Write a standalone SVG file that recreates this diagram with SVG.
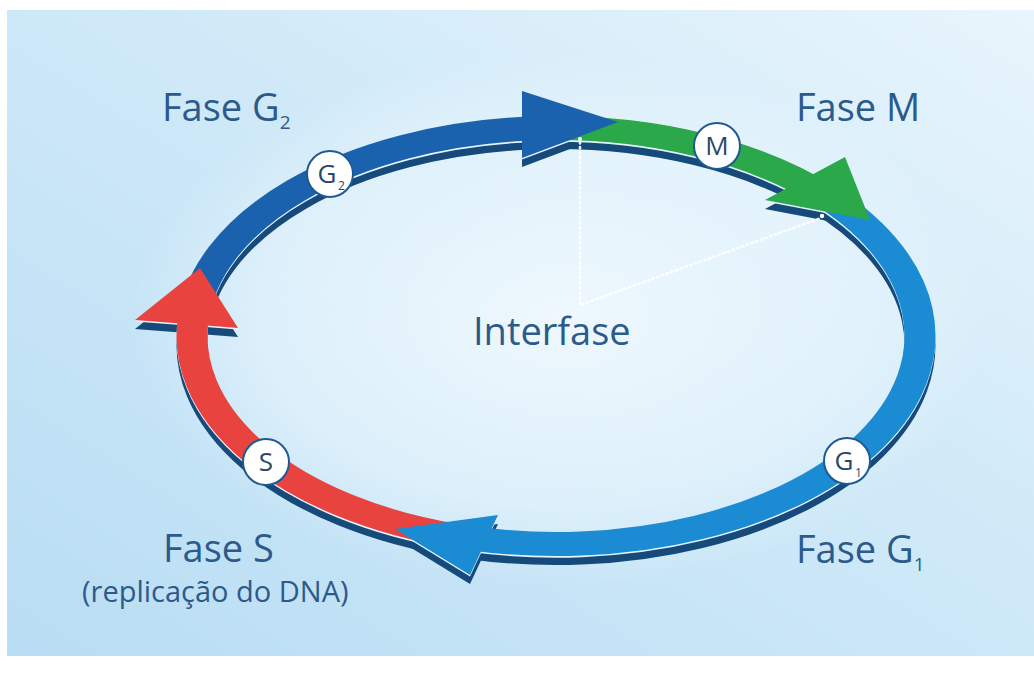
<svg xmlns="http://www.w3.org/2000/svg" xmlns:xlink="http://www.w3.org/1999/xlink" width="1034" height="673" viewBox="0 0 1034 673">
<style>
.lbl{font-family:"Open Sans","Noto Sans","Liberation Sans",sans-serif;fill:#2c5a8a;}
.big{font-size:38px;}
.sub{font-size:19px;}
.small{font-size:29px;}
.ct{font-family:"Open Sans","Noto Sans","Liberation Sans",sans-serif;fill:#2a4868;font-size:26px;text-anchor:middle;}
.cs{font-family:"Open Sans","Noto Sans","Liberation Sans",sans-serif;fill:#2a4868;font-size:12px;}
.node circle{fill:#ffffff;stroke:#1d5a93;stroke-width:2;}
.dots{stroke:#ffffff;stroke-width:2.6;stroke-dasharray:1.5 3.5;stroke-linecap:round;fill:none;opacity:0.9;}
</style>
<defs>
<linearGradient id="bg" x1="0" y1="1" x2="1" y2="0">
<stop offset="0" stop-color="#b9ddf4"/>
<stop offset="0.55" stop-color="#cfe9f8"/>
<stop offset="1" stop-color="#e8f5fc"/>
</linearGradient>
<radialGradient id="glow" cx="560" cy="320" r="430" gradientUnits="userSpaceOnUse" gradientTransform="translate(560 320) scale(1 0.62) translate(-560 -320)">
<stop offset="0" stop-color="#f2fafe" stop-opacity="0.9"/>
<stop offset="0.7" stop-color="#eaf6fd" stop-opacity="0.6"/>
<stop offset="1" stop-color="#eaf6fd" stop-opacity="0"/>
</radialGradient>
<path id="bG2" transform="translate(556 336) scale(1 0.78)" fill="none" stroke-width="31" d="M -363.1 -18.6 A 364 266.67 0 0 1 -31.7 -265.65"/>
<path id="bM" transform="translate(556 336) scale(1 0.78)" fill="none" stroke-width="31" d="M -12.7 -266.5 A 364 266.67 0 0 1 270.5 -178.4"/>
<path id="bG1" transform="translate(556 336) scale(1 0.78)" fill="none" stroke-width="31" d="M 261.8 -185.3 A 364 266.67 0 0 1 -88.1 258.7"/>
<path id="bS" transform="translate(556 336) scale(1 0.78)" fill="none" stroke-width="31" d="M -100.3 256.3 A 364 266.67 0 0 1 -362.0 -27.9"/>
<polygon id="aS" stroke="none" points="135,320 200,268 238,328"/>
<polygon id="aG2" stroke="none" points="522,91 618,122 522,158"/>
<polygon id="aM" stroke="none" points="845,157 870,220 765,200"/>
<polygon id="aG1" stroke="none" points="395,529 498,515 470,575"/>
<g id="ring">
<use xlink:href="#bG2"/><use xlink:href="#bM"/><use xlink:href="#bG1"/><use xlink:href="#bS"/>
<use xlink:href="#aS"/><use xlink:href="#aG2"/><use xlink:href="#aM"/><use xlink:href="#aG1"/>
</g>
</defs>

<rect x="7" y="10" width="1027" height="646" fill="url(#bg)"/>
<rect x="7" y="10" width="1027" height="646" fill="url(#glow)"/>

<g id="connectors">
<g id="shadow" transform="translate(0 9)" fill="#154a7b" stroke="#154a7b"><use xlink:href="#ring"/></g>
<g id="edge" transform="translate(0 1.6)" fill="#e6f4fc" stroke="#e6f4fc"><use xlink:href="#ring"/></g>
<g id="bands">
<use xlink:href="#bG2" stroke="#1a62ad"/>
<use xlink:href="#bM" stroke="#2aa84a"/>
<use xlink:href="#bG1" stroke="#1b8bd3"/>
<use xlink:href="#bS" stroke="#e8433f"/>
</g>
<g id="heads">
<use xlink:href="#aS" fill="#e8433f"/>
<use xlink:href="#aG2" fill="#1a62ad"/>
<use xlink:href="#aM" fill="#2aa84a"/>
<use xlink:href="#aG1" fill="#1b8bd3"/>
</g>
</g>

<g id="guides">
<polyline class="dots" points="580,142 580,305 821,218"/>
<circle cx="580" cy="139" r="2" fill="#ffffff"/>
<circle cx="822" cy="216" r="2.2" fill="#ffffff"/>
</g>

<g id="node-g2" class="node">
<circle cx="330" cy="174" r="23"/>
<text class="ct" x="327" y="183">G</text>
<text class="cs" x="338" y="190">2</text>
<text class="lbl big" x="162" y="121">Fase G<tspan class="sub" dy="8">2</tspan></text>
</g>
<g id="node-m" class="node">
<circle cx="717" cy="146" r="23"/>
<text class="ct" x="717" y="155">M</text>
<text class="lbl big" x="796" y="121">Fase M</text>
</g>
<g id="node-g1" class="node">
<circle cx="847" cy="461" r="23"/>
<text class="ct" x="844" y="470">G</text>
<text class="cs" x="855" y="477">1</text>
<text class="lbl big" x="796" y="563">Fase G<tspan class="sub" dy="8">1</tspan></text>
</g>
<g id="node-s" class="node">
<circle cx="266" cy="462" r="23"/>
<text class="ct" x="266" y="471">S</text>
<text class="lbl big" x="163" y="562">Fase S</text>
<text class="lbl small" x="82" y="602">(replicação do DNA)</text>
</g>
<g id="center">
<text class="lbl big" x="473" y="345">Interfase</text>
</g>
</svg>
